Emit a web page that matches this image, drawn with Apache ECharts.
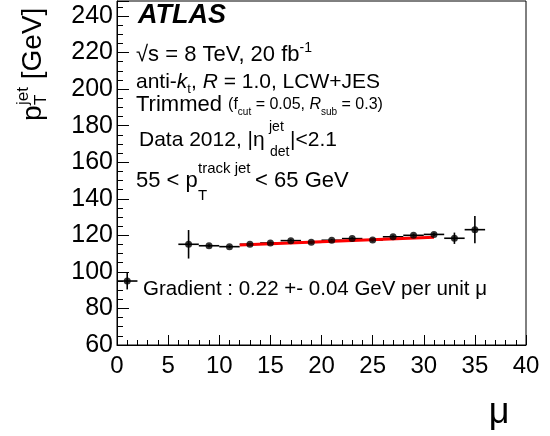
<!DOCTYPE html>
<html>
<head>
<meta charset="utf-8">
<script src="https://cdn.jsdelivr.net/npm/echarts@6/dist/echarts.min.js"></script>
<style>
html,body{margin:0;padding:0;background:#fff;}
#chart{width:550px;height:436px;}
</style>
</head>
<body>
<div id="chart"></div>
<script>
// ---- data ----
var mu        = [1, 7, 9, 11, 13, 15, 17, 19, 21, 23, 25, 27, 29, 31, 33, 35];
var ptJet     = [95.0, 115.1, 114.3, 113.8, 115.1, 115.8, 117.1, 116.2, 117.3, 118.2, 117.4, 119.2, 120.0, 120.5, 118.4, 123.1];
var ptErr     = [4.6, 7.8, 0.8, 0.7, 0.7, 0.7, 0.7, 0.7, 0.7, 0.7, 0.8, 0.8, 0.8, 0.9, 3.1, 7.5];
var muHalfBin = [1, 1, 1, 1, 1, 1, 1, 1, 1, 1, 1, 1, 1, 1, 1, 1];
var fitMu     = [12, 31];
var fitPt     = [114.7, 118.9];
var xTicks    = [0, 5, 10, 15, 20, 25, 30, 35, 40];
var yTicks    = [60, 80, 100, 120, 140, 160, 180, 200, 220, 240];

var FONT = "'Liberation Sans', Arial, Helvetica, sans-serif";

var errData = mu.map(function (m, i) { return [m, ptJet[i], ptErr[i], muHalfBin[i]]; });
var ptsData = mu.map(function (m, i) { return [m, ptJet[i]]; });
var fitData = fitMu.map(function (m, i) { return [m, fitPt[i]]; });

var chart = echarts.init(document.getElementById('chart'), null, {renderer: 'canvas'});

function txt(x, y, rich, text, extra) {
  var el = {
    type: 'text', x: x, y: y, silent: true,
    style: {text: text, rich: rich, align: 'left', verticalAlign: 'middle', fill: '#000', fontFamily: FONT, fontSize: 22}
  };
  if (extra) { for (var k in extra) el.style[k] = extra[k]; }
  return el;
}

var main = {fontFamily: FONT, fontSize: 22, lineHeight: 26, fill: '#000'};
var main21 = {fontFamily: FONT, fontSize: 21, lineHeight: 26, fill: '#000'};
var ital21 = {fontFamily: FONT, fontSize: 21, lineHeight: 26, fontStyle: 'italic', fill: '#000'};
var sup  = {fontFamily: FONT, fontSize: 14, height: 12, lineHeight: 12, verticalAlign: 'top', fill: '#000'};
var sub  = {fontFamily: FONT, fontSize: 13, height: 12, lineHeight: 12, verticalAlign: 'bottom', fill: '#000'};
var sm   = {fontFamily: FONT, fontSize: 16, lineHeight: 16, fill: '#000'};
var smI  = {fontFamily: FONT, fontSize: 16, lineHeight: 16, fontStyle: 'italic', fill: '#000'};
var tiny = {fontFamily: FONT, fontSize: 10, height: 12, lineHeight: 12, verticalAlign: 'bottom', fill: '#000'};

var graphics = [
  {type: 'text', x: 138, y: 16, silent: true,
   style: {text: 'ATLAS', fontFamily: FONT, fontSize: 27, fontWeight: 'bold', fontStyle: 'italic', fill: '#000', align: 'left', verticalAlign: 'middle'}},
  txt(136, 55, {m: main, s: sup}, '{m|√s = 8 TeV, 20 fb}{s|-1}'),
  txt(136, 82, {m: main21, i: ital21, b: sub}, '{m|anti-}{i|k}{b|t}{m|, }{i|R}{m| = 1.0, LCW+JES}'),
  txt(136, 105, {m: main, s: sm, si: smI, t: tiny}, '{m|Trimmed }{s|(f}{t|cut}{s| = 0.05, }{si|R}{t|sub}{s| = 0.3)}'),
  // Data 2012, |eta^jet_det| < 2.1
  txt(139, 140, null, 'Data 2012, |η', {fontSize: 21}),
  txt(269, 127, null, 'jet', {fontSize: 14}),
  txt(270, 152, null, 'det', {fontSize: 14}),
  txt(290, 140, null, '|<2.1', {fontSize: 21}),
  // 55 < pT^track jet < 65 GeV
  txt(136, 181, null, '55 < p'),
  txt(198, 196, null, 'T', {fontSize: 15}),
  txt(198, 169, null, 'track jet', {fontSize: 15}),
  txt(249, 181, null, ' < 65 GeV'),
  txt(143, 289, null, 'Gradient : 0.22 +- 0.04 GeV per unit μ', {fontSize: 20.5}),
  // x axis title
  {type: 'text', x: 499, y: 413, silent: true,
   style: {text: 'μ', fontFamily: FONT, fontSize: 36, fill: '#000', align: 'center', verticalAlign: 'middle'}},
  // y axis title (rotated)
  {type: 'group', x: 33, y: 121, rotation: Math.PI / 2, silent: true,
   children: [
     {type: 'text', x: 0, y: 0, style: {text: 'p', fontFamily: FONT, fontSize: 28, fill: '#000', align: 'left', verticalAlign: 'middle'}},
     {type: 'text', x: 16, y: 8, style: {text: 'T', fontFamily: FONT, fontSize: 17, fill: '#000', align: 'left', verticalAlign: 'middle'}},
     {type: 'text', x: 16, y: -10, style: {text: 'jet', fontFamily: FONT, fontSize: 17, fill: '#000', align: 'left', verticalAlign: 'middle'}},
     {type: 'text', x: 34, y: 0, style: {text: ' [GeV]', fontFamily: FONT, fontSize: 28, fill: '#000', align: 'left', verticalAlign: 'middle'}}
   ]}
];

var option = {
  animation: false,
  backgroundColor: '#fff',
  grid: {left: 117, right: 24, top: 1, bottom: 91, show: true, borderColor: '#000', borderWidth: 1, backgroundColor: 'transparent'},
  xAxis: {
    type: 'value', min: xTicks[0], max: xTicks[xTicks.length - 1], interval: 5,
    axisLine: {show: true, lineStyle: {color: '#000', width: 1}},
    axisTick: {show: true, inside: true, length: 10, lineStyle: {color: '#000', width: 1}},
    minorTick: {show: true, splitNumber: 5, length: 5, lineStyle: {color: '#000', width: 1}},
    splitLine: {show: false}, minorSplitLine: {show: false},
    axisLabel: {color: '#000', fontFamily: FONT, fontSize: 24, margin: 9}
  },
  yAxis: {
    type: 'value', min: yTicks[0], max: 248.2, interval: 20,
    axisLine: {show: true, lineStyle: {color: '#000', width: 1}},
    axisTick: {show: true, inside: true, length: 12, lineStyle: {color: '#000', width: 1}},
    minorTick: {show: true, splitNumber: 4, length: 6, lineStyle: {color: '#000', width: 1}},
    splitLine: {show: false}, minorSplitLine: {show: false},
    axisLabel: {color: '#000', fontFamily: FONT, fontSize: 25, margin: 4, showMaxLabel: false}
  },
  graphic: graphics,
  series: [
    {
      type: 'custom', name: 'errors', data: errData, encode: {x: 0, y: 1}, silent: true, z: 2,
      renderItem: function (params, api) {
        var m = api.value(0), p = api.value(1), e = api.value(2), h = api.value(3);
        var l = api.coord([m - h, p]), r = api.coord([m + h, p]);
        var lo = api.coord([m, p - e]), hi = api.coord([m, p + e]);
        var st = {stroke: '#000', lineWidth: 1.6};
        return {type: 'group', children: [
          {type: 'line', shape: {x1: l[0], y1: l[1], x2: r[0], y2: r[1]}, style: st},
          {type: 'line', shape: {x1: lo[0], y1: lo[1], x2: hi[0], y2: hi[1]}, style: st}
        ]};
      }
    },
    {
      type: 'line', name: 'fit', data: fitData, symbol: 'none', silent: true, z: 3,
      lineStyle: {color: '#ff0000', width: 3}
    },
    {
      type: 'scatter', name: 'data', data: ptsData, symbol: 'circle', symbolSize: 7, silent: true, z: 4,
      itemStyle: {color: '#000'}
    }
  ]
};
chart.setOption(option);
</script>
</body>
</html>
